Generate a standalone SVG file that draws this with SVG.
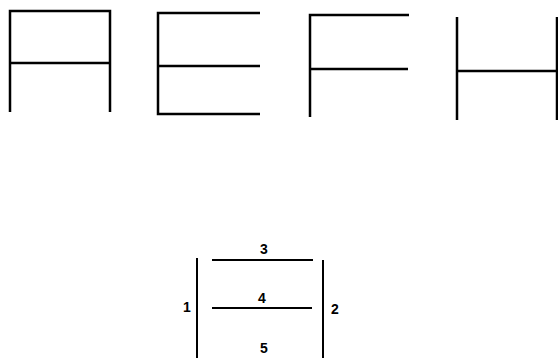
<svg xmlns="http://www.w3.org/2000/svg" width="558" height="358" viewBox="0 0 558 358">
<style>
.s{stroke:#000;stroke-width:2.5;fill:none;stroke-linecap:butt}
.t{stroke:#000;stroke-width:2;fill:none}
.l{font-family:"Liberation Sans",Arial,sans-serif;font-weight:bold;font-size:14px;fill:#000;text-anchor:middle}
</style>
<rect width="558" height="358" fill="#fff"/>
<g id="letter-A">
<path class="s" d="M10,112 V11 H110 V112 M10,63 H110"/>
</g>
<g id="letter-E">
<path class="s" d="M260,13 H158 V114 H260 M158,66 H260"/>
</g>
<g id="letter-F">
<path class="s" d="M409,15 H310 V117 M310,69 H408"/>
</g>
<g id="letter-H">
<path class="s" d="M457,17 V120 M557,17 V120 M457,71 H557"/>
</g>
<g id="segments">
<g id="seg1"><path class="t" d="M197,258 V358"/><text class="l" x="187" y="312">1</text></g>
<g id="seg2"><path class="t" d="M323,260 V358"/><text class="l" x="335" y="314">2</text></g>
<g id="seg3"><path class="t" d="M212,260 H313"/><text class="l" x="264" y="254">3</text></g>
<g id="seg4"><path class="t" d="M212,308 H312"/><text class="l" x="262" y="303">4</text></g>
<g id="seg5"><text class="l" x="264" y="353">5</text></g>
</g>
</svg>
